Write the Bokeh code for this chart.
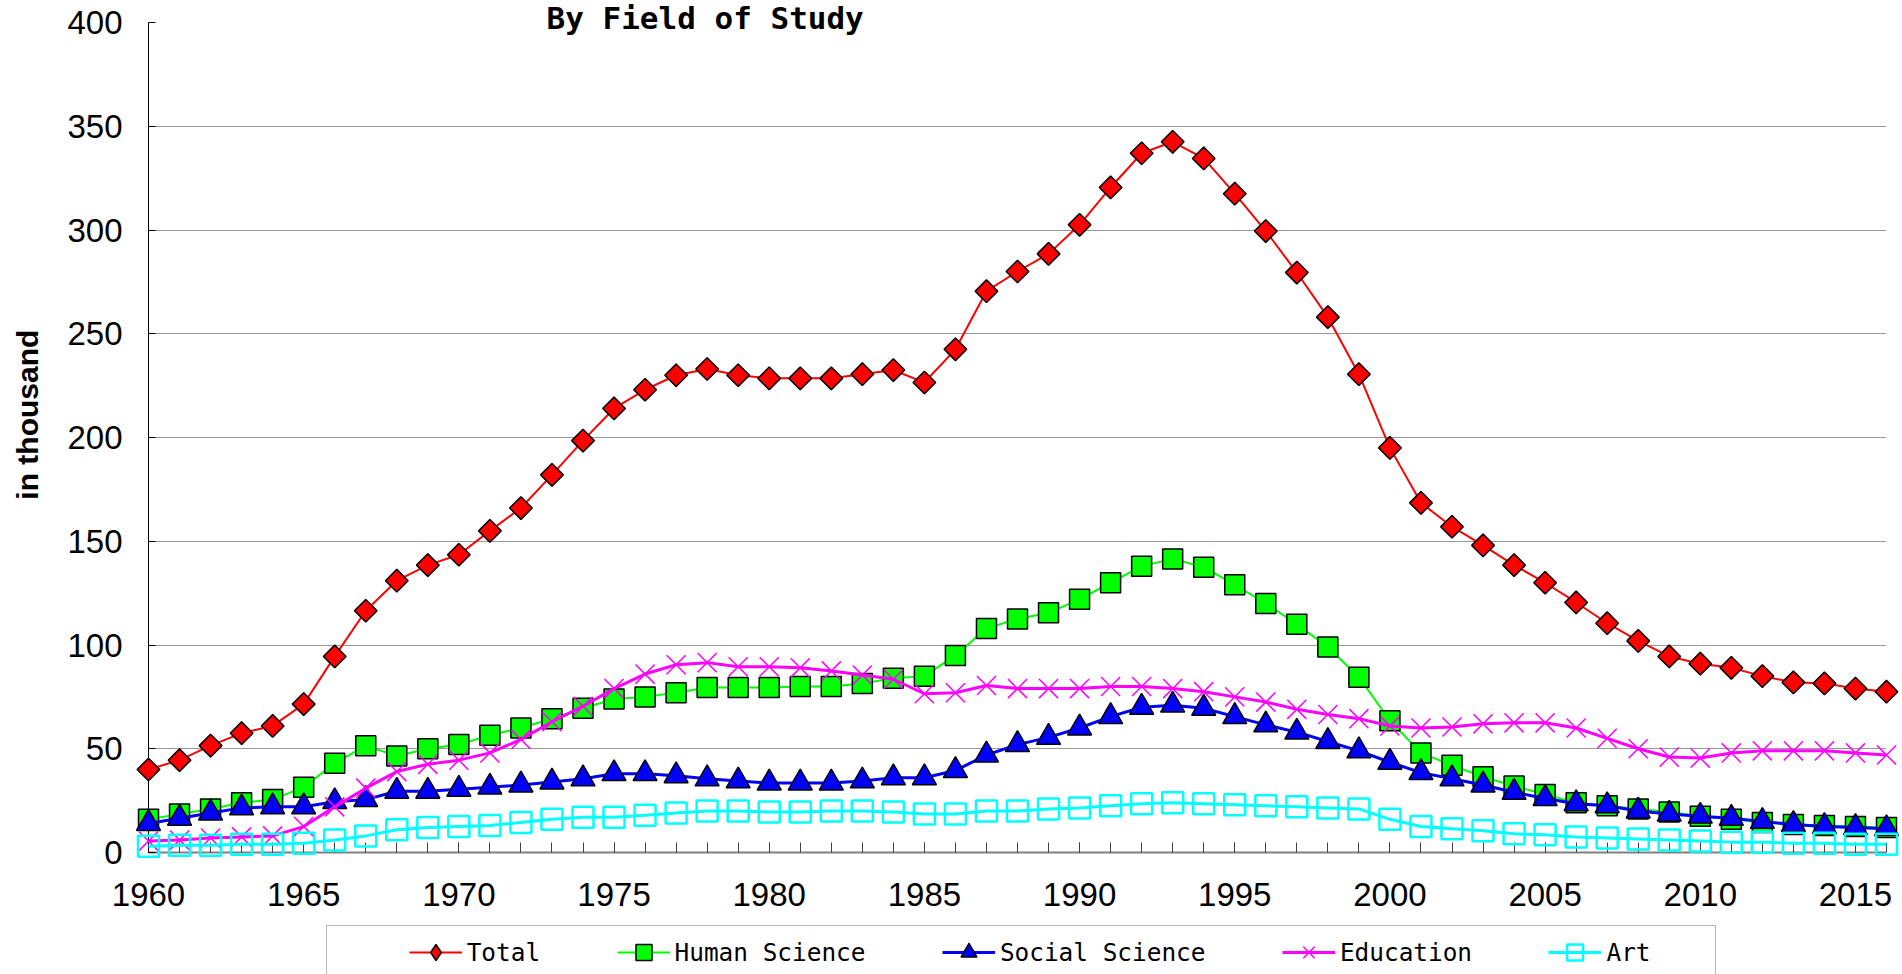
import math
from bokeh.plotting import figure
from bokeh.models import Range1d, SingleIntervalTicker, FixedTicker, Legend, LegendItem
from bokeh.core.properties import value
from bokeh.embed import file_html
from bokeh.resources import INLINE

years = list(range(1960, 2017))

total = [40, 44.5, 51.5, 57.5, 61, 71.5, 94.5, 116.5, 131, 138.5,
         143.5, 155, 166, 182, 198.5, 214, 223, 230, 233, 230,
         228.5, 228.5, 228.5, 230.5, 232.5, 226.5, 242.5, 270.5, 280, 288.5,
         302.5, 320.5, 337, 342.5, 334.5, 317.5, 299.5, 279.5, 258, 230.5,
         195, 168.5, 157, 148, 138.5, 130, 120.5, 110.5, 102, 94.5,
         91, 89, 85, 82, 81.5, 79, 77.5]

human_science = [16, 18.5, 21, 24, 25.5, 31.5, 43, 51.5, 46.5, 50,
                 52, 56.5, 60, 64.5, 69.5, 74, 75, 77, 79.5, 79.5,
                 79.5, 80, 80, 81.5, 84, 85, 95, 108, 112.5, 115.5,
                 122, 130, 138, 141.5, 137.5, 129, 120, 110, 99, 84.5,
                 63.5, 48, 42, 36.5, 32, 28, 24, 22.5, 21, 19.5,
                 17.5, 16, 14.5, 13.5, 13, 12.5, 12]

social_science = [14, 16.5, 19, 21.5, 22, 22, 24.5, 25.5, 29.5, 29.5,
                  30.5, 31.5, 32.5, 34, 35.5, 38, 38, 37, 35.5, 34.5,
                  33.5, 33.5, 33.5, 34.5, 36, 36, 39.5, 47, 52, 55.5,
                  60, 65.5, 70, 71, 69.5, 65.5, 61.5, 58, 53.5, 49,
                  43.5, 38.5, 35.5, 32.5, 29, 26, 23.5, 22.5, 20, 18.5,
                  17.5, 16.5, 15, 13.5, 12.5, 12, 11.5]

education = [5.5, 6, 7, 7.5, 8, 12.5, 22, 31, 39, 42.5,
             44.5, 48, 54.5, 63, 70.5, 79, 86, 90.5, 91.5, 89.5,
             89.5, 89, 87.5, 85.5, 83.5, 76.5, 77, 80.5, 79, 79,
             79, 80, 80, 79, 77.5, 75, 72.5, 69, 66.5, 64.5,
             61, 60, 60.5, 62, 62.5, 62.5, 60, 55, 50, 46,
             45.5, 48, 49, 49, 49, 48, 47]

art = [3, 3.5, 3.5, 4, 4, 4.5, 6, 8, 11, 12,
       12.5, 13, 14.5, 16, 17, 17, 18, 19, 20, 20,
       19.5, 19.5, 20, 20, 19.5, 18.5, 18.5, 20, 20, 21,
       21.5, 22.5, 23.5, 24, 23.5, 23, 22.5, 22, 21.5, 21,
       16, 12.5, 11.5, 10.5, 9, 8.5, 7.5, 7, 6.5, 6,
       5.5, 5, 5, 4.5, 4.5, 4, 4]

series_names = ["Total", "Human Science", "Social Science", "Education", "Art"]
grid_values = [50, 100, 150, 200, 250, 300, 350]
title_text = "By Field of Study"
y_title_text = "in thousand"

# The frame covers the whole page; axes are pinned at x=1960 / y=0 so that
# their labels and the legend below are never clipped.
W, H = 1902, 974
plot_left, plot_right, plot_top, plot_bottom = 148, 1886, 22, 852
x0, x1, y0, y1 = 1960, 2016, 0, 400
px_x = (plot_right - plot_left) / (x1 - x0)
px_y = (plot_bottom - plot_top) / (y1 - y0)
x_range = Range1d(x0 - plot_left / px_x, x1 + (W - plot_right) / px_x)
y_range = Range1d(y0 - (H - plot_bottom) / px_y, y1 + plot_top / px_y)

p = figure(width=W, height=H, output_backend="svg", toolbar_location=None,
           x_range=x_range, y_range=y_range,
           min_border_left=0, min_border_right=0, min_border_top=0, min_border_bottom=0,
           background_fill_color="white", border_fill_color="white")
p.outline_line_color = None
p.xgrid.visible = False

grid = p.ygrid[0]
use_native_grid = "cross_bounds" in grid.properties()
if use_native_grid:
    grid.ticker = FixedTicker(ticks=grid_values)
    grid.cross_bounds = (x0, x1)
    grid.grid_line_color = "#303030"
    grid.grid_line_dash = "1 1"
    grid.grid_line_width = 1
else:
    grid.visible = False

p.xaxis.fixed_location = y0
p.xaxis.bounds = (x0, x1)
p.xaxis.ticker = SingleIntervalTicker(interval=5, num_minor_ticks=5)
p.xaxis.axis_line_color = "#808080"
p.xaxis.axis_line_width = 2
p.xaxis.major_tick_in = 10
p.xaxis.major_tick_out = 0
p.xaxis.minor_tick_in = 10
p.xaxis.minor_tick_out = 0
p.xaxis.major_tick_line_color = "#404040"
p.xaxis.minor_tick_line_color = "#404040"
p.xaxis.major_label_standoff = 30

p.yaxis.fixed_location = x0
p.yaxis.bounds = (y0, y1)
p.yaxis.ticker = SingleIntervalTicker(interval=50, num_minor_ticks=0)
p.yaxis.axis_line_color = "black"
p.yaxis.major_tick_out = 0
p.yaxis.minor_tick_line_color = None
p.yaxis.major_label_standoff = 26
if use_native_grid:
    p.yaxis.major_tick_in = 7
else:
    p.yaxis.major_tick_in = int(plot_right - plot_left)
    p.yaxis.major_tick_line_color = "#303030"
    p.yaxis.major_tick_line_dash = "1 1"

for ax in (p.xaxis[0], p.yaxis[0]):
    ax.major_label_text_font = "Liberation Sans"
    ax.major_label_text_font_size = "33px"
    ax.major_label_text_color = "black"


def add_series(vals, color, lw, marker, size, fill, mline, mlw, angle=0.0, key_marker=None):
    ln = p.line(years, vals, line_color=color, line_width=lw, level="overlay")
    rs = [ln]
    if key_marker is not None:
        # smaller marker fully hidden under the plotted one; gives the legend key shape
        rs.append(p.scatter(years, vals, marker=key_marker, size=size * 0.8, fill_color=fill,
                            line_color=mline, line_width=mlw, level="overlay"))
    sc = p.scatter(years, vals, marker=marker, size=size, fill_color=fill,
                   line_color=mline, line_width=mlw, angle=angle, level="overlay")
    if key_marker is None:
        rs.append(sc)
    return rs


r_total = add_series(total, "#FF0000", 2, "square", 16, "#FF0000", "black", 1.5,
                     math.pi / 4, key_marker="diamond")
r_hum = add_series(human_science, "#00FF00", 2, "square", 20, "#00FF00", "black", 1.5)
r_soc = add_series(social_science, "#0000FF", 3, "triangle", 24, "#0000FF", "black", 1.5)
r_edu = add_series(education, "#FF00FF", 3, "x", 27, None, "#FF00FF", 1.5)
r_art = add_series(art, "#00FFFF", 3, "square", 21, None, "#00FFFF", 2.5)

# title and y-axis caption
p.text(x=[x0], y=[y1], text=[title_text], x_offset=398, y_offset=-5,
       text_font=value("DejaVu Sans Mono"), text_font_style="bold",
       text_font_size="31px", text_align="left", text_baseline="alphabetic",
       text_color="black", level="overlay")
p.text(x=[x0], y=[211], text=[y_title_text], x_offset=-121, angle=math.pi / 2,
       text_font=value("Liberation Sans"), text_font_style="bold",
       text_font_size="30px", text_align="center", text_baseline="middle",
       text_color="black", level="overlay")

# legend under the x axis; trailing spaces give the gaps between entries
dummy = p.line(x=[], y=[], line_alpha=0)
labels = ["\u00a0"] + [n + "     " for n in series_names[:-1]] + [series_names[-1] + "    "]
rends = [[dummy], r_total, r_hum, r_soc, r_edu, r_art]
legend = Legend(items=[LegendItem(label=value(l), renderers=r) for l, r in zip(labels, rends)],
                location=(326, -5), orientation="horizontal",
                glyph_width=53, glyph_height=40, label_standoff=5, spacing=3,
                label_width=0, padding=6, margin=0,
                border_line_color="#707070", border_line_width=1.5,
                background_fill_color="white",
                label_text_font="DejaVu Sans Mono", label_text_font_size="24.4px",
                label_text_color="black")
p.add_layout(legend)

open("out.html", "w").write(file_html(p, INLINE))
